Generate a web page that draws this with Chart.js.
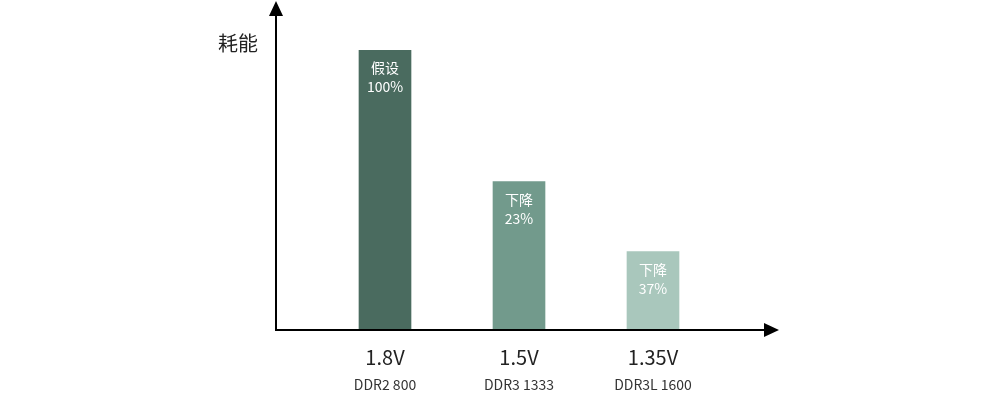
<!DOCTYPE html>
<html>
<head>
<meta charset="utf-8">
<script src="https://cdn.jsdelivr.net/npm/chart.js@4/dist/chart.umd.min.js"></script>
<style>
html,body{margin:0;padding:0;background:#fff;}
#wrap{width:998px;height:399px;position:relative;}
</style>
</head>
<body>
<div id="wrap"><canvas id="c"></canvas></div>
<script>
const voltages = ['1.8V', '1.5V', '1.35V'];
const models = ['DDR2 800', 'DDR3 1333', 'DDR3L 1600'];
const energy = [100, 53, 28];
const noteTop = ['假设', '下降', '下降'];
const noteBottom = ['100%', '23%', '37%'];
const barColors = ['#4a6b5f', '#729a8c', '#a9c7bc'];
const yTitle = '耗能';

const FONT = '"Noto Sans CJK SC", "Noto Sans", sans-serif';

const decor = {
  id: 'decor',
  afterDatasetsDraw(chart) {
    const ctx = chart.ctx;
    const a = chart.chartArea;
    const x0 = a.left - 42;
    const y0 = a.bottom;
    ctx.save();
    ctx.strokeStyle = '#000';
    ctx.fillStyle = '#000';
    ctx.lineWidth = 2;
    // y axis
    ctx.beginPath();
    ctx.moveTo(x0, y0 + 1);
    ctx.lineTo(x0, 14);
    ctx.stroke();
    ctx.beginPath();
    ctx.moveTo(x0, 1);
    ctx.lineTo(x0 - 7, 16);
    ctx.lineTo(x0 + 7, 16);
    ctx.closePath();
    ctx.fill();
    // x axis
    const xEnd = a.right + 59;
    ctx.beginPath();
    ctx.moveTo(x0 - 1, y0);
    ctx.lineTo(xEnd - 14, y0);
    ctx.stroke();
    ctx.beginPath();
    ctx.moveTo(xEnd, y0);
    ctx.lineTo(xEnd - 15, y0 - 7);
    ctx.lineTo(xEnd - 15, y0 + 7);
    ctx.closePath();
    ctx.fill();
    // y title
    ctx.font = '20px ' + FONT;
    ctx.fillStyle = '#222';
    ctx.textAlign = 'center';
    ctx.textBaseline = 'middle';
    ctx.fillText(yTitle, x0 - 38, 43);
    // bar notes
    const meta = chart.getDatasetMeta(0);
    ctx.font = '14px ' + FONT;
    ctx.fillStyle = '#fff';
    meta.data.forEach((bar, i) => {
      ctx.fillText(noteTop[i], bar.x, bar.y + 18);
      ctx.fillText(noteBottom[i], bar.x, bar.y + 37);
    });
    ctx.restore();
  }
};

new Chart(document.getElementById('c'), {
  type: 'bar',
  data: {
    labels: voltages,
    datasets: [{
      data: energy,
      backgroundColor: barColors,
      borderWidth: 0,
      barThickness: 52
    }]
  },
  options: {
    responsive: true,
    maintainAspectRatio: false,
    animation: false,
    devicePixelRatio: 1,
    layout: { padding: { left: 318, right: 278, top: 50, bottom: 0 } },
    plugins: { legend: { display: false }, tooltip: { enabled: false } },
    scales: {
      y: { display: false, min: 0, max: 100 },
      x: {
        position: 'bottom',
        grid: { display: false, drawTicks: false },
        border: { display: false },
        ticks: { color: '#222', font: { size: 20, family: FONT }, padding: 15, maxRotation: 0 },
        afterFit(s) { s.height = 40; }
      },
      x2: {
        type: 'category',
        labels: models,
        position: 'bottom',
        offset: true,
        grid: { display: false, drawTicks: false },
        border: { display: false },
        ticks: { color: '#333', font: { size: 14, family: FONT }, padding: 6, maxRotation: 0 },
        afterFit(s) { s.height = 29; }
      }
    }
  },
  plugins: [decor]
});
</script>
</body>
</html>
